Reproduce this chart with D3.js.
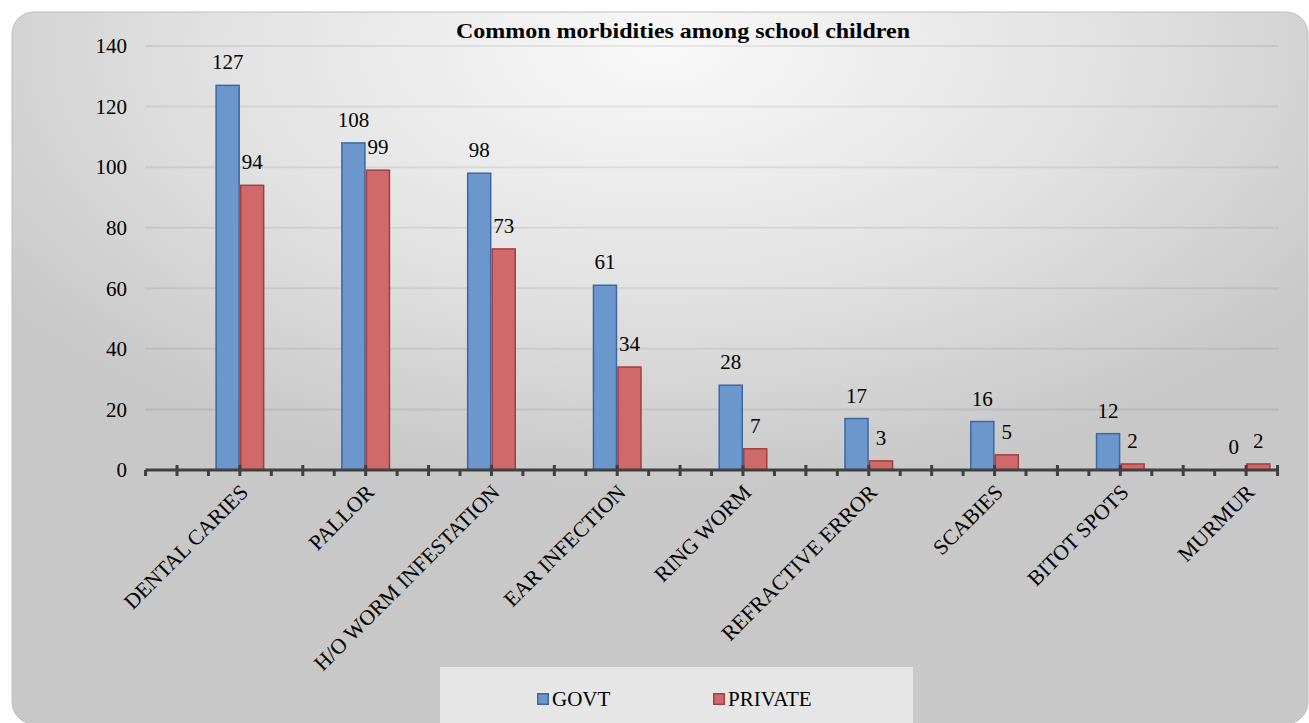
<!DOCTYPE html>
<html>
<head>
<meta charset="utf-8">
<script src="https://cdn.jsdelivr.net/npm/d3@7"></script>
<style>
body { margin: 0; background: #fff; }
</style>
</head>
<body>
<svg id="chart" width="1309" height="723"></svg>
<script>
var categories = ["DENTAL CARIES", "PALLOR", "H/O WORM INFESTATION", "EAR INFECTION",
    "RING WORM", "REFRACTIVE ERROR", "SCABIES", "BITOT SPOTS", "MURMUR"];
var govtValues = [127, 108, 98, 61, 28, 17, 16, 12, 0];
var privateValues = [94, 99, 73, 34, 7, 3, 5, 2, 2];
var seriesNames = ["GOVT", "PRIVATE"];
var yTicks = [0, 20, 40, 60, 80, 100, 120, 140];

var FONT = "'Liberation Serif', 'Times New Roman', serif";

var svg = d3.select("#chart")
    .attr("font-family", FONT);
var defs = svg.append("defs");

var bg = defs.append("radialGradient")
    .attr("id", "bgGrad")
    .attr("cx", 0.5).attr("cy", 0.05).attr("r", 0.62);
bg.append("stop").attr("offset", "0%").attr("stop-color", "#f9f9f9");
bg.append("stop").attr("offset", "55%").attr("stop-color", "#e2e2e2");
bg.append("stop").attr("offset", "100%").attr("stop-color", "#c8c8c8");

// chart background panel
svg.append("rect")
    .attr("x", 12).attr("y", 12)
    .attr("width", 1296).attr("height", 712)
    .attr("rx", 22).attr("ry", 22)
    .attr("fill", "url(#bgGrad)")
    .attr("stroke", "#bdbdbd")
    .attr("stroke-width", 1);

var y = d3.scaleLinear().domain([0, 140]).range([470, 46]);

var x0 = d3.scaleBand()
    .domain(categories)
    .range([177, 1309])
    .paddingInner(0.61)
    .paddingOuter(0.305);

var x1 = d3.scaleBand()
    .domain(seriesNames)
    .range([0, x0.bandwidth()]);

// gridlines
svg.append("g")
    .selectAll("line")
    .data(yTicks.slice(1))
    .enter().append("line")
    .attr("x1", 145).attr("x2", 1279)
    .attr("y1", d => y(d)).attr("y2", d => y(d))
    .attr("stroke", "rgba(0,0,0,0.07)")
    .attr("stroke-width", 2);

// y axis labels (no axis line)
var yAxis = svg.append("g")
    .attr("transform", "translate(145,0)")
    .call(d3.axisLeft(y).tickValues(yTicks).tickSize(0).tickPadding(18));
yAxis.attr("font-family", FONT).attr("font-size", 21);
yAxis.select(".domain").remove();
yAxis.selectAll("text").attr("fill", "#000");

var colors = { GOVT: "#6b97cd", PRIVATE: "#d06a6a" };
var strokes = { GOVT: "#3b68a3", PRIVATE: "#a53d3d" };

var rows = categories.map((c, i) => ({ cat: c, vals: [
    { s: "GOVT", v: govtValues[i] },
    { s: "PRIVATE", v: privateValues[i] }
] }));

var groups = svg.append("g").selectAll("g")
    .data(rows)
    .enter().append("g")
    .attr("transform", d => "translate(" + x0(d.cat) + ",0)");

groups.selectAll("rect")
    .data(d => d.vals.filter(e => e.v > 0))
    .enter().append("rect")
    .attr("x", d => x1(d.s) + 0.75)
    .attr("y", d => y(d.v))
    .attr("width", x1.bandwidth() - 1.5)
    .attr("height", d => y(0) - y(d.v))
    .attr("fill", d => colors[d.s])
    .attr("stroke", d => strokes[d.s])
    .attr("stroke-width", 1.5);

groups.selectAll("text")
    .data(d => d.vals)
    .enter().append("text")
    .attr("x", d => x1(d.s) + x1.bandwidth() / 2)
    .attr("y", d => y(d.v) - 16)
    .attr("text-anchor", "middle")
    .attr("font-size", 21)
    .text(d => d.v);

// x axis: line with quarter-category ticks
var step = x0.step();
var tickIdx = d3.range(-1, 36);
var tickX = d3.scaleLinear().domain([0, 4]).range([177, 177 + step]);
var xAxis = svg.append("g");
xAxis.append("line")
    .attr("x1", tickX(-1)).attr("x2", tickX(35))
    .attr("y1", 470).attr("y2", 470)
    .attr("stroke", "#404040").attr("stroke-width", 3);
xAxis.selectAll(".tick")
    .data(tickIdx)
    .enter().append("line")
    .attr("class", "tick")
    .attr("x1", d => tickX(d)).attr("x2", d => tickX(d))
    .attr("y1", d => (d % 2 === 0 || d === 35) ? 465 : 470)
    .attr("y2", 476)
    .attr("stroke", "#404040").attr("stroke-width", 3);

// category labels rotated
svg.append("g").selectAll("text")
    .data(categories)
    .enter().append("text")
    .attr("transform", d => "translate(" + (x0(d) + x0.bandwidth() / 2 - 1) + ",483) rotate(-45)")
    .attr("text-anchor", "end")
    .attr("dy", "0.7em")
    .attr("font-size", 21.5)
    .text(d => d);

// title
svg.append("text")
    .attr("x", 683).attr("y", 38)
    .attr("text-anchor", "middle")
    .attr("font-size", 21)
    .attr("font-weight", "bold")
    .attr("textLength", 454)
    .attr("lengthAdjust", "spacingAndGlyphs")
    .text("Common morbidities among school children");

// legend
var legend = svg.append("g");
legend.append("rect")
    .attr("x", 440).attr("y", 667)
    .attr("width", 473).attr("height", 56)
    .attr("fill", "#e6e6e6");
var legendX = { GOVT: 537, PRIVATE: 713 };
var li = legend.selectAll(".item")
    .data(seriesNames)
    .enter().append("g")
    .attr("class", "item")
    .attr("transform", d => "translate(" + legendX[d] + ",693)");
li.append("rect")
    .attr("x", 0.75).attr("y", 0.75)
    .attr("width", 10.5).attr("height", 10.5)
    .attr("fill", d => colors[d])
    .attr("stroke", d => strokes[d])
    .attr("stroke-width", 1.5);
li.append("text")
    .attr("x", 15).attr("y", 13)
    .attr("font-size", 21)
    .text(d => d);
</script>
</body>
</html>
